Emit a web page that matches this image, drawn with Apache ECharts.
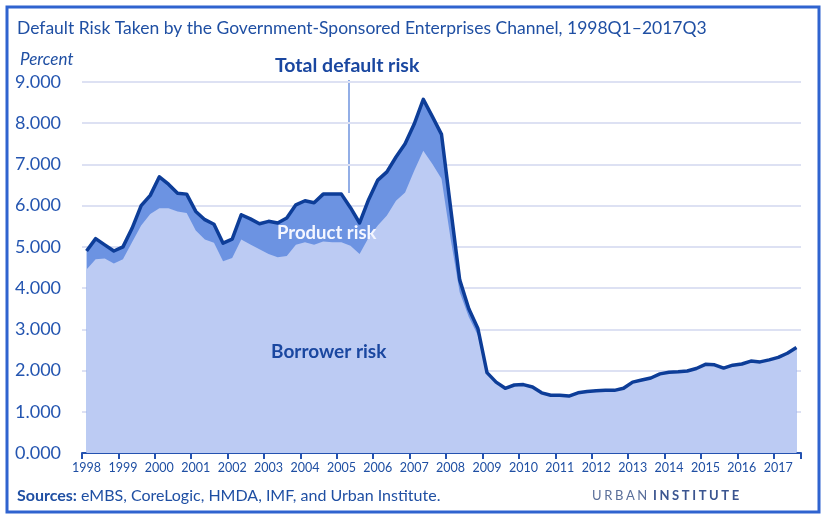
<!DOCTYPE html>
<html>
<head>
<meta charset="utf-8">
<script src="https://cdn.jsdelivr.net/npm/echarts@6/dist/echarts.min.js"></script>
<style>
html, body { margin: 0; padding: 0; background: #fff; }
#chart { width: 823px; height: 518px; }
</style>
</head>
<body>
<div id="chart"></div>
<script>
var years = ['1998', '1999', '2000', '2001', '2002', '2003', '2004', '2005', '2006', '2007',
	'2008', '2009', '2010', '2011', '2012', '2013', '2014', '2015', '2016', '2017'];

// 1998Q1 .. 2017Q3
var quarters = [];
years.forEach(function(y) {
	for (var q = 1; q <= 4; q++) quarters.push(y + 'Q' + q);
});
quarters.length = 79;

var totalRisk = [
	4.90, 5.20, 5.05, 4.90,
	5.00, 5.45, 6.00, 6.25,
	6.70, 6.52, 6.30, 6.28,
	5.86, 5.66, 5.55, 5.09,
	5.19, 5.78, 5.68, 5.56,
	5.62, 5.58, 5.70, 6.02,
	6.12, 6.07, 6.28, 6.28,
	6.28, 5.95, 5.58, 6.15,
	6.62, 6.82, 7.18, 7.50,
	7.98, 8.58, 8.16, 7.73,
	5.95, 4.20, 3.50, 3.02,
	1.95, 1.72, 1.57, 1.65,
	1.66, 1.60, 1.46, 1.40,
	1.40, 1.38, 1.46, 1.49,
	1.51, 1.52, 1.52, 1.57,
	1.72, 1.77, 1.82, 1.92,
	1.96, 1.97, 1.99, 2.05,
	2.15, 2.14, 2.06, 2.13,
	2.16, 2.23, 2.21, 2.26,
	2.32, 2.42, 2.56
];

var borrowerRisk = [
	4.45, 4.70, 4.72, 4.60,
	4.70, 5.11, 5.52, 5.80,
	5.94, 5.94, 5.86, 5.82,
	5.40, 5.18, 5.10, 4.65,
	4.73, 5.18, 5.06, 4.94,
	4.83, 4.75, 4.78, 5.05,
	5.11, 5.05, 5.13, 5.11,
	5.11, 5.03, 4.83, 5.23,
	5.52, 5.76, 6.12, 6.32,
	6.85, 7.33, 7.01, 6.65,
	5.20, 3.90, 3.30, 2.85,
	1.90, 1.70, 1.55, 1.63,
	1.66, 1.60, 1.46, 1.40,
	1.40, 1.38, 1.46, 1.49,
	1.51, 1.52, 1.52, 1.57,
	1.72, 1.77, 1.82, 1.92,
	1.96, 1.97, 1.99, 2.05,
	2.15, 2.14, 2.06, 2.13,
	2.16, 2.23, 2.21, 2.26,
	2.32, 2.42, 2.56
];

var BLUE = '#1f4fa3';
var FONT = 'Lato, "Open Sans", sans-serif';

function yearLabel(index) {
	return index % 4 === 0;
}

// letter-spaced logo text, one glyph at a time
function spacedText(str, x, y, font, color, spacing) {
	var ctx = document.createElement('canvas').getContext('2d');
	ctx.font = font;
	var out = [];
	for (var i = 0; i < str.length; i++) {
		out.push({
			type: 'text', silent: true,
			style: { text: str[i], x: x, y: y, font: font, fill: color, textVerticalAlign: 'middle' }
		});
		x += ctx.measureText(str[i]).width + spacing;
	}
	return out;
}

var chart = echarts.init(document.getElementById('chart'), null, { renderer: 'canvas' });

var graphics = [
	{ type: 'rect', silent: true, shape: { x: 7, y: 7, width: 812, height: 505 },
		style: { fill: 'none', stroke: '#2f63cf', lineWidth: 3 } },
	{ type: 'text', silent: true,
		style: { text: 'Default Risk Taken by the Government-Sponsored Enterprises Channel, 1998Q1\u20132017Q3',
			x: 17, y: 28, font: '17.5px ' + FONT, fill: BLUE, textVerticalAlign: 'middle' } },
	{ type: 'text', silent: true,
		style: { text: 'Percent', x: 20, y: 60, font: 'italic 17px ' + FONT, fill: BLUE, textVerticalAlign: 'middle' } },
	{ type: 'text', silent: true,
		style: { text: 'Total default risk', x: 275, y: 66, font: 'bold 19.5px ' + FONT, fill: '#1a47a0', textVerticalAlign: 'middle' } },
	{ type: 'line', silent: true, shape: { x1: 349, y1: 80, x2: 349, y2: 193 },
		style: { stroke: '#4a78d6', lineWidth: 1.2 } },
	{ type: 'text', silent: true, z: 100,
		style: { text: 'Product risk', x: 277, y: 233, font: 'bold 18.5px ' + FONT, fill: '#f4f6ff', textVerticalAlign: 'middle' } },
	{ type: 'text', silent: true, z: 100,
		style: { text: 'Borrower risk', x: 271, y: 352, font: 'bold 19px ' + FONT, fill: '#1a47a0', textVerticalAlign: 'middle' } },
	{ type: 'text', silent: true,
		style: { text: '{b|Sources:} eMBS, CoreLogic, HMDA, IMF, and Urban Institute.',
			x: 17, y: 496, font: '16px ' + FONT, fill: BLUE, textVerticalAlign: 'middle',
			rich: { b: { font: 'bold 16px ' + FONT, fill: BLUE } } } }
];
graphics = graphics
	.concat(spacedText('URBAN', 592, 496, '13px ' + FONT, '#5a6f9a', 2.6))
	.concat(spacedText('INSTITUTE', 653, 496, 'bold 13px ' + FONT, '#3b5590', 2.6));

chart.setOption({
	animation: false,
	backgroundColor: '#ffffff',
	grid: { left: 82, right: 22, top: 82, bottom: 65 },
	xAxis: {
		type: 'category',
		data: quarters,
		boundaryGap: true,
		axisLine: { lineStyle: { color: '#2452b0', width: 2 } },
		axisTick: { show: true, interval: yearLabel, length: 6, lineStyle: { color: '#2452b0', width: 2 } },
		axisLabel: {
			interval: yearLabel,
			formatter: function(v) { return v.slice(0, 4); },
			color: BLUE, fontFamily: FONT, fontSize: 12.5, margin: 8
		}
	},
	yAxis: {
		type: 'value',
		min: 0, max: 9, interval: 1,
		axisLine: { show: false },
		axisTick: { show: false },
		splitLine: { lineStyle: { color: '#dde1f3', width: 2 } },
		axisLabel: {
			align: 'left', margin: 67,
			formatter: function(v) { return v.toFixed(3); },
			color: '#2455b0', fontFamily: FONT, fontSize: 18
		}
	},
	series: [
		{
			name: 'Product risk', type: 'line', data: totalRisk, symbol: 'none',
			lineStyle: { width: 0 }, areaStyle: { color: '#6c93e2', opacity: 1 }
		},
		{
			name: 'Borrower risk', type: 'line', data: borrowerRisk, symbol: 'none',
			lineStyle: { width: 0 }, areaStyle: { color: '#bccbf3', opacity: 1 }
		},
		{
			name: 'Total default risk', type: 'line', data: totalRisk, symbol: 'none', z: 5,
			lineStyle: { color: '#0d3d98', width: 3.5, join: 'round' }
		}
	],
	graphic: graphics
});
</script>
</body>
</html>
